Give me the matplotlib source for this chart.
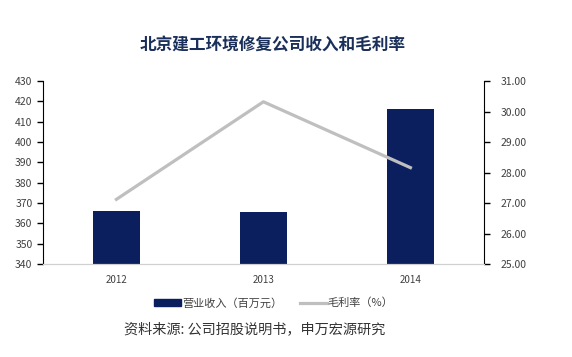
import matplotlib
matplotlib.use("Agg")
import matplotlib.pyplot as plt
from matplotlib.lines import Line2D
from matplotlib.patches import Patch

plt.rcParams['font.family'] = ['Noto Sans CJK SC', 'DejaVu Sans']

years = ["2012", "2013", "2014"]
revenue = [366.0, 365.4, 416.4]
margin = [27.12, 30.32, 28.16]

bar_color = "#0B1F5E"
line_color = "#BFBFBF"
text_color = "#404040"

fig = plt.figure(figsize=(5.72, 3.57), dpi=100)
ax = fig.add_axes([0.075, 0.2605, 0.771, 0.5125])
x = range(len(years))
ax.bar(x, revenue, width=0.32, color=bar_color, zorder=2)
ax.set_ylim(340, 430)
ax.set_yticks(range(340, 431, 10))
ax.set_xlim(-0.5, 2.5)
ax.set_xticks(list(x))
ax.set_xticklabels(years)

ax2 = ax.twinx()
ax2.plot(list(x), margin, color=line_color, linewidth=2.3, zorder=3)
ax2.set_ylim(25, 31)
ax2.set_yticks(range(25, 32))
ax2.set_yticklabels([f"{v:.2f}" for v in range(25, 32)])

for a in (ax, ax2):
    a.spines['top'].set_visible(False)
    a.spines['bottom'].set_color("#D0D0D0")
    a.tick_params(axis='y', labelsize=7.5, colors="black", labelcolor=text_color,
                  length=4, width=1, direction='out')
    a.tick_params(axis='x', length=0, labelsize=7, labelcolor=text_color, pad=8)
ax.spines['left'].set_color("black")
ax.spines['right'].set_visible(False)
ax2.spines['left'].set_visible(False)
ax2.spines['right'].set_color("black")
ax2.tick_params(axis='y', pad=8)

fig.text(0.476, 0.872, "北京建工环境修复公司收入和毛利率", ha='center', va='center',
         fontsize=12, fontweight='bold', color="#1A2F5A")

handles = [Patch(color=bar_color), Line2D([0], [0], color=line_color, linewidth=2.3)]
fig.legend(handles, ["营业收入（百万元）", "毛利率（%）"], loc='center',
           bbox_to_anchor=(0.479, 0.151), ncol=2, frameon=False, fontsize=8,
           labelcolor=text_color, handlelength=2.4, handleheight=0.6,
           handletextpad=0.1, columnspacing=1.6)

fig.text(0.445, 0.078, "资料来源: 公司招股说明书，申万宏源研究", ha='center', va='center',
         fontsize=10.2, color="#333333")

fig.savefig("out.png", dpi=100)
